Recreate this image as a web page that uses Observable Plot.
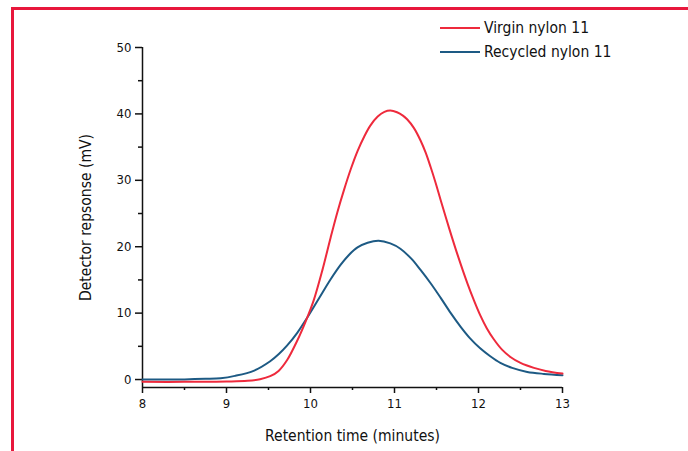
<!DOCTYPE html>
<html>
<head>
<meta charset="utf-8">
<script src="https://cdn.jsdelivr.net/npm/d3@7"></script>
<script src="https://cdn.jsdelivr.net/npm/@observablehq/plot@0.6"></script>
<style>
  html, body { margin: 0; padding: 0; background: #fff; }
  #wrap { position: relative; width: 688px; height: 451px; overflow: hidden; }
  #border { position: absolute; left: 11px; top: 7px; width: 700px; height: 460px;
            border-left: 3px solid #e8173c; border-top: 3px solid #e8173c; box-sizing: border-box; }
  #chart { position: absolute; left: 0; top: 0; }
  .legend { position: absolute; left: 440px; font-family: "Liberation Sans Narrow", "DejaVu Sans Condensed", sans-serif;
            font-stretch: condensed; font-size: 15.5px; color: #111; display: flex; align-items: center; }
  .legend span.sw { display: inline-block; width: 40px; height: 2px; margin-right: 4px; }
</style>
</head>
<body>
<div id="wrap">
  <div id="border"></div>
  <div id="chart"></div>
  <div class="legend" id="leg1" style="top:19px"></div>
  <div class="legend" id="leg2" style="top:43px"></div>
</div>
<script>
const seriesNames = ["Virgin nylon 11", "Recycled nylon 11"];
const seriesColors = ["#ee2a3c", "#1d5a84"];

const virginTime = [8, 8.5, 9, 9.25, 9.4, 9.52, 9.62, 9.72, 9.84, 9.96, 10.04, 10.14, 10.24, 10.32, 10.4, 10.48, 10.56, 10.64, 10.71, 10.8, 10.88, 10.95, 11.03, 11.1, 11.15, 11.23, 11.31, 11.37, 11.43, 11.49, 11.55, 11.65, 11.75, 11.87, 11.94, 12.02, 12.1, 12.18, 12.28, 12.38, 12.5, 12.66, 12.8, 13];
const virginResp = [-0.35, -0.35, -0.3, -0.2, 0.05, 0.5, 1.3, 2.9, 5.8, 9.3, 12.0, 16.4, 21.4, 25.2, 28.6, 31.7, 34.4, 36.6, 38.2, 39.6, 40.3, 40.5, 40.25, 39.75, 39.2, 37.9, 36, 34.2, 32, 29.6, 27, 22.8, 18.8, 14.4, 12.1, 9.7, 7.7, 6.1, 4.5, 3.4, 2.5, 1.75, 1.3, 0.9];

const recycledTime = [8, 8.5, 8.75, 8.93, 9.1, 9.33, 9.52, 9.62, 9.72, 9.84, 9.96, 10.1, 10.24, 10.36, 10.46, 10.56, 10.68, 10.81, 10.95, 11.07, 11.2, 11.31, 11.43, 11.55, 11.67, 11.79, 11.9, 12.02, 12.14, 12.26, 12.4, 12.58, 12.78, 13];
const recycledResp = [0, 0.02, 0.1, 0.2, 0.55, 1.35, 2.75, 3.8, 5.1, 7, 9.3, 12.2, 15.1, 17.3, 18.8, 19.9, 20.6, 20.9, 20.5, 19.7, 18.2, 16.5, 14.5, 12.3, 10, 7.9, 6.2, 4.7, 3.5, 2.5, 1.75, 1.15, 0.85, 0.65];

const xMajor = [8, 9, 10, 11, 12, 13];
const xMinor = [8.5, 9.5, 10.5, 11.5, 12.5];
const yMajor = [0, 10, 20, 30, 40, 50];
const yMinor = [5, 15, 25, 35, 45];
const xDomain = [8, 13];
const yDomain = [-1.2, 50];

const virgin = virginTime.map((t, i) => ({t, v: virginResp[i], s: seriesNames[0]}));
const recycled = recycledTime.map((t, i) => ({t, v: recycledResp[i], s: seriesNames[1]}));

const font = "'Liberation Sans Narrow', 'DejaVu Sans Condensed', sans-serif";

const chart = Plot.plot({
  width: 688,
  height: 451,
  marginLeft: 142,
  marginRight: 126,
  marginTop: 47,
  marginBottom: 64,
  style: {fontFamily: font, fontSize: "13px", color: "#111", background: "transparent", fontStretch: "condensed"},
  x: {domain: xDomain},
  y: {domain: yDomain},
  color: {domain: seriesNames, range: seriesColors},
  marks: [
    Plot.axisX(xMinor, {tickSize: 3, tickFormat: () => "", label: null, strokeWidth: 1.5}),
    Plot.axisX(xMajor, {tickSize: 6, tickPadding: 5, tickFormat: d => d, label: "Retention time (minutes)", labelAnchor: "center", labelOffset: 53, labelArrow: "none", fontSize: 13, strokeWidth: 1.5}),
    Plot.axisY(yMinor, {tickSize: 4, tickFormat: () => "", label: null, strokeWidth: 1.5}),
    Plot.axisY(yMajor, {tickSize: 7, tickPadding: 4, tickFormat: d => d, label: "Detector repsonse (mV)", labelAnchor: "center", labelOffset: 63, labelArrow: "none", fontSize: 13, strokeWidth: 1.5}),
    Plot.ruleX([xDomain[0]], {strokeWidth: 1.5}),
    Plot.ruleY([yDomain[0]], {strokeWidth: 1.5}),
    Plot.line(recycled, {x: "t", y: "v", stroke: "s", strokeWidth: 2, curve: "catmull-rom"}),
    Plot.line(virgin, {x: "t", y: "v", stroke: "s", strokeWidth: 2, curve: "catmull-rom"})
  ]
});
d3.select(chart).selectAll("g[aria-label='x-axis label'] text, g[aria-label='y-axis label'] text").style("font-size", "15.5px");
document.getElementById("chart").appendChild(chart);

[["leg1", 0], ["leg2", 1]].forEach(([id, i]) => {
  const el = document.getElementById(id);
  el.innerHTML = `<span class="sw" style="background:${seriesColors[i]}"></span><span>${seriesNames[i]}</span>`;
});
</script>
</body>
</html>
